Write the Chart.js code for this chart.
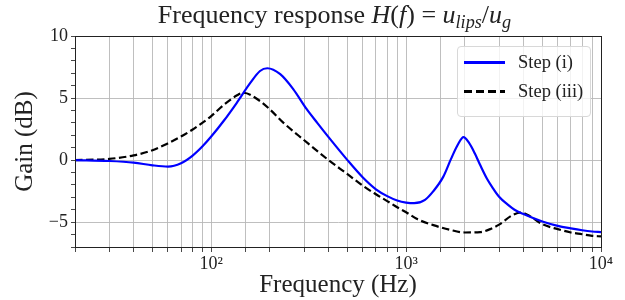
<!DOCTYPE html>
<html>
<head>
<meta charset="utf-8">
<script src="https://cdn.jsdelivr.net/npm/chart.js@4.4.1/dist/chart.umd.min.js"></script>
<style>
    body { margin: 0; background: #fff; }
    #wrap { position: relative; width: 625px; height: 300px; font-family: "Liberation Serif", serif; color: #222; }
    #title { position: absolute; top: 0px; left: 22px; width: 625px; text-align: center; font-size: 26px; white-space: nowrap; line-height: 30px; }
    #title sub { font-size: 70%; vertical-align: -0.3em; line-height: 0; }
    #legend { position: absolute; left: 457px; top: 46px; width: 132px; height: 69px; border: 1px solid #d8d8d8;
              border-radius: 4px; background: rgba(255, 255, 255, 0.8); }
    .item { position: absolute; left: 0; height: 22px; font-size: 18.5px; white-space: nowrap; }
    .item .line { position: absolute; left: 6px; top: 10px; width: 41px; height: 2.5px; }
    .item .txt { position: absolute; left: 60px; top: 0; line-height: 22px; }
</style>
</head>
<body>
<div id="wrap">
    <canvas id="chart" width="625" height="300"></canvas>
    <div id="title">Frequency response <i>H</i>(<i>f</i>) = <i>u</i><sub><i>lips</i></sub>/<i>u</i><sub><i>g</i></sub></div>
    <div id="legend"></div>
</div>
<script>
// Step (i)
var freqsI = [20, 30, 40, 50, 60, 70, 80, 90, 100, 116, 135, 159, 178, 194, 226, 264, 309, 350, 400,
    500, 600, 700, 800, 900, 1000, 1100, 1250, 1380, 1550, 1700, 1850, 1970, 2100, 2250, 2400, 2600, 2800,
    3000, 3300, 3600, 4000, 5000, 6000, 7000, 8000, 9000, 10000];
var gainI = [0, -0.07, -0.2, -0.42, -0.52, -0.25, 0.35, 1.1, 1.9, 3.17, 4.6, 6.24, 7.18, 7.4, 6.92, 5.7, 4.1, 3.0, 1.85,
    0, -1.4, -2.35, -2.9, -3.25, -3.42, -3.47, -3.2, -2.5, -1.35, 0.1, 1.3, 1.85, 1.4, 0.55, -0.4, -1.5, -2.3,
    -2.95, -3.55, -4.0, -4.35, -4.95, -5.3, -5.5, -5.65, -5.75, -5.8];

// Step (iii)
var freqsIII = [20, 30, 40, 50, 60, 70, 80, 90, 100, 116, 135, 146, 178, 200, 235, 300, 400, 500, 600,
    700, 800, 900, 1000, 1140, 1380, 1680, 2000, 2400, 2700, 3000, 3500, 3900, 4300, 5000, 6000, 7000,
    8000, 9000, 10000];
var gainIII = [0, 0.1, 0.38, 0.8, 1.35, 1.9, 2.45, 3.0, 3.55, 4.45, 5.2, 5.43, 4.76, 4.09, 3.0, 1.6, 0, -1.13, -2.07,
    -2.75, -3.3, -3.8, -4.2, -4.75, -5.24, -5.62, -5.83, -5.8, -5.56, -5.2, -4.45, -4.22, -4.5, -5.16, -5.56, -5.83,
    -5.97, -6.1, -6.15];

var seriesLabels = ['Step (i)', 'Step (iii)'];
var yLabelTicks = [-5, 0, 5, 10];

var sup = { '1': '\u00b9', '2': '\u00b2', '3': '\u00b3', '4': '\u2074' };

function toPoints(xs, ys) {
    var pts = [];
    for (let i = 0; i < xs.length; i++) {
        pts.push({ x: xs[i], y: ys[i] });
    }
    return pts;
}

// full box round the plot, like matplotlib spines
var framePlugin = {
    id: 'frame',
    afterDatasetsDraw: function (chart) {
        var a = chart.chartArea;
        var ctx = chart.ctx;
        ctx.save();
        ctx.strokeStyle = '#222';
        ctx.lineWidth = 1;
        ctx.strokeRect(Math.round(a.left) + 0.5, Math.round(a.top) + 0.5, Math.round(a.right - a.left), Math.round(a.bottom - a.top));
        ctx.restore();
    }
};

var ctx = document.getElementById('chart').getContext('2d');
var myChart = new Chart(ctx, {
    type: 'line',
    data: {
        datasets: [{
            label: seriesLabels[0],
            data: toPoints(freqsI, gainI),
            borderColor: '#0000ff',
            borderWidth: 2.2,
            pointRadius: 0,
            cubicInterpolationMode: 'monotone'
        }, {
            label: seriesLabels[1],
            data: toPoints(freqsIII, gainIII),
            borderColor: '#000000',
            borderWidth: 2.2,
            borderDash: [7.5, 3.5],
            pointRadius: 0,
            cubicInterpolationMode: 'monotone'
        }]
    },
    options: {
        responsive: false,
        animation: false,
        layout: { padding: { top: 36, right: 24, left: 0, bottom: 0 } },
        plugins: {
            legend: { display: false },
            tooltip: { enabled: false }
        },
        scales: {
            x: {
                type: 'logarithmic',
                min: 20,
                max: 10000,
                afterFit: function (scale) { scale.height = 53; },
                border: { color: '#222', width: 1 },
                grid: { color: '#b8b8b8', lineWidth: 0.9, tickColor: '#333', tickLength: 5 },
                ticks: {
                    autoSkip: false,
                    maxRotation: 0,
                    padding: 1,
                    color: '#222',
                    font: { family: 'Liberation Serif', size: 18 },
                    callback: function (value) {
                        var e = Math.log10(value);
                        if (Math.abs(e - Math.round(e)) < 1e-9) {
                            return '10' + sup[String(Math.round(e))];
                        }
                        return '';
                    }
                },
                title: {
                    display: true,
                    text: 'Frequency (Hz)',
                    color: '#222',
                    font: { family: 'Liberation Serif', size: 25 },
                    padding: { top: 0, bottom: 0 }
                }
            },
            y: {
                min: -7,
                max: 10,
                afterFit: function (scale) { scale.width = 75; },
                border: { color: '#222', width: 1 },
                grid: {
                    color: function (c) { return yLabelTicks.indexOf(c.tick.value) >= 0 ? '#b8b8b8' : 'rgba(0,0,0,0)'; },
                    lineWidth: 0.9,
                    tickColor: '#333',
                    tickLength: 4
                },
                ticks: {
                    stepSize: 1,
                    autoSkip: false,
                    padding: 3,
                    color: '#222',
                    font: { family: 'Liberation Serif', size: 18 },
                    callback: function (value) {
                        if (yLabelTicks.indexOf(value) < 0) return '';
                        return value < 0 ? '\u2212' + Math.abs(value) : String(value);
                    }
                },
                title: {
                    display: true,
                    text: 'Gain (dB)',
                    color: '#222',
                    font: { family: 'Liberation Serif', size: 25 },
                    padding: { top: 10, bottom: 4 }
                }
            }
        }
    },
    plugins: [framePlugin]
});

// legend built from the datasets
var legend = document.getElementById('legend');
myChart.data.datasets.forEach(function (ds, i) {
    var item = document.createElement('div');
    item.className = 'item';
    item.style.top = (4 + i * 29) + 'px';
    var line = document.createElement('span');
    line.className = 'line';
    if (ds.borderDash) {
        line.style.background = 'repeating-linear-gradient(to right, ' + ds.borderColor + ' 0 8px, transparent 8px 12px)';
    } else {
        line.style.background = ds.borderColor;
    }
    var txt = document.createElement('span');
    txt.className = 'txt';
    txt.textContent = ds.label;
    item.appendChild(line);
    item.appendChild(txt);
    legend.appendChild(item);
});
</script>
</body>
</html>
